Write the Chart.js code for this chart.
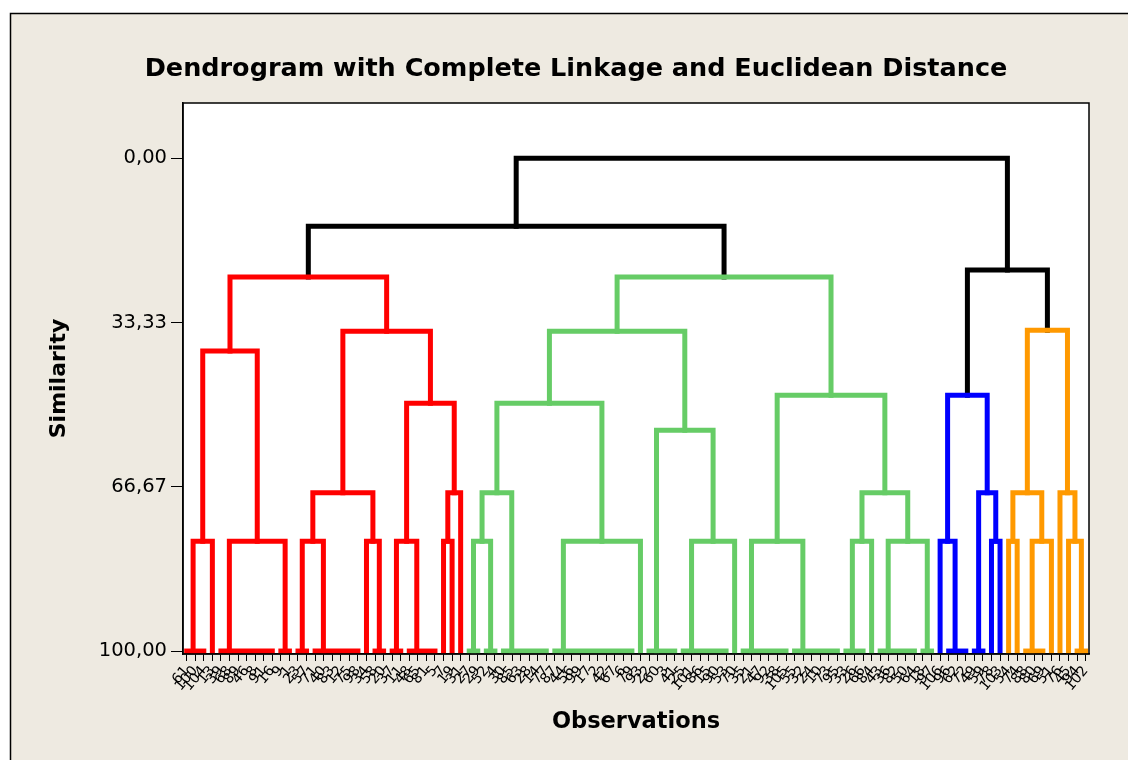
<!DOCTYPE html>
<html>
<head>
<meta charset="utf-8">
<title>Dendrogram with Complete Linkage and Euclidean Distance</title>
<script src="https://cdn.jsdelivr.net/npm/chart.js"></script>
<style>
  html, body { margin: 0; padding: 0; background: #fff; }
  canvas { display: block; }
</style>
</head>
<body>
<canvas id="dendrogram" width="1128" height="760"></canvas>
<script>
// leaf order along the x axis (observation numbers)
const observations = [
  61, 100, 104, 13, 39, 68, 89, 46, 8, 91,
  16, 9, 1, 23, 57, 71, 40, 83, 12, 75,
  98, 34, 58, 20, 37, 11, 48, 65, 81, 5,
  7, 19, 31, 27, 29, 52, 4, 30, 85, 63,
  28, 14, 77, 87, 44, 56, 99, 17, 2, 42,
  67, 6, 79, 93, 22, 60, 3, 41, 25, 101,
  86, 15, 90, 53, 70, 35, 21, 47, 92, 38,
  105, 55, 32, 24, 10, 73, 95, 33, 26, 66,
  84, 43, 36, 82, 50, 64, 18, 97, 106, 96,
  62, 72, 49, 59, 78, 103, 54, 74, 88, 80,
  69, 51, 76, 45, 94, 102
];

// each merge joins leaves first..split-1 with split..last at a similarity level;
// a leaf range that is not itself a merge is a group of identical observations (similarity 100)
const mergeFirst = [0, 4, 0, 13, 21, 13, 24, 30, 30, 24, 13, 0,
  33, 33, 43, 33, 58, 54, 33, 65, 77, 81, 77, 65, 33, 0,
  88, 94, 92, 88, 96, 98, 96, 103, 102, 96, 88, 0];
const mergeSplit = [3, 11, 4, 15, 22, 21, 26, 31, 32, 30, 24, 13,
  35, 37, 53, 43, 64, 58, 54, 71, 80, 86, 81, 77, 65, 33,
  89, 95, 94, 92, 97, 101, 98, 104, 103, 102, 96, 88];
const mergeLast = [3, 12, 12, 20, 23, 23, 29, 31, 32, 32, 32, 32,
  36, 42, 53, 53, 64, 64, 64, 76, 80, 87, 87, 87, 87, 87,
  91, 95, 95, 95, 97, 101, 101, 105, 105, 105, 105, 105];
const mergeSim = [77.7, 77.7, 39.1, 77.7, 77.7, 67.9, 77.7, 77.7, 67.9, 49.7, 35.1, 24.1,
  77.7, 67.9, 77.7, 49.7, 77.7, 55.2, 35.1, 77.7, 77.7, 77.7, 67.9, 48.1, 24.1, 13.8,
  77.7, 77.7, 67.9, 48.1, 77.7, 77.7, 67.9, 77.7, 67.9, 34.9, 22.7, 0];

// final partition: first leaf of each cluster and its colour
const clusterStart = [0, 33, 88, 96];
const clusterColors = ['#ff0000', '#66cc66', '#0000ff', '#ff9900'];
const clusterCut = 23.5;

const yTickValues = [0, 33.33, 66.67, 100];
const yTickLabels = ['0,00', '33,33', '66,67', '100,00'];

function findMerge(first, last) {
  for (let i = 0; i < mergeSim.length; i++) {
    if (mergeFirst[i] === first && mergeLast[i] === last) return i;
  }
  return -1;
}

function nodeX(first, last) {
  if (first === last) return first;
  const m = findMerge(first, last);
  if (m < 0) return (first + nodeX(first + 1, last)) / 2;
  return (nodeX(first, mergeSplit[m] - 1) + nodeX(mergeSplit[m], last)) / 2;
}

function nodeSim(first, last) {
  const m = findMerge(first, last);
  return m < 0 ? 100 : mergeSim[m];
}

function clusterColor(leaf) {
  let c = 0;
  clusterStart.forEach((s, i) => { if (leaf >= s) c = i; });
  return clusterColors[c];
}

function link(points, color) {
  return {
    data: points,
    borderColor: color,
    borderWidth: 5,
    borderCapStyle: 'square',
    borderJoinStyle: 'miter',
    pointRadius: 0,
    fill: false,
    tension: 0
  };
}

const datasets = [];
mergeSim.forEach((sim, i) => {
  const first = mergeFirst[i], split = mergeSplit[i], last = mergeLast[i];
  const xl = nodeX(first, split - 1);
  const xr = nodeX(split, last);
  const color = sim > clusterCut ? clusterColor(first) : '#000000';
  datasets.push(link([
    { x: xl, y: nodeSim(first, split - 1) },
    { x: xl, y: sim },
    { x: xr, y: sim },
    { x: xr, y: nodeSim(split, last) }
  ], color));
  // identical observations joined along the bottom
  [[first, split - 1], [split, last]].forEach(([a, b]) => {
    if (b > a && findMerge(a, b) < 0) {
      datasets.push(link([{ x: a, y: 100 }, { x: b, y: 100 }], clusterColor(a)));
    }
  });
});

const framePlugin = {
  id: 'frame',
  beforeDraw(chart) {
    const { ctx, chartArea: a } = chart;
    ctx.save();
    ctx.fillStyle = '#ffffff';
    ctx.fillRect(0, 0, chart.width, chart.height);
    ctx.fillStyle = '#eeeae1';
    ctx.fillRect(10, 13, chart.width, chart.height);
    ctx.strokeStyle = '#000000';
    ctx.lineWidth = 1.5;
    ctx.strokeRect(10.5, 13.5, chart.width + 20, chart.height + 20);
    ctx.fillStyle = '#ffffff';
    ctx.fillRect(a.left, a.top, a.right - a.left, a.bottom - a.top);
    ctx.restore();
  },
  afterDraw(chart) {
    const { ctx, chartArea: a } = chart;
    ctx.save();
    ctx.strokeStyle = '#000000';
    ctx.lineWidth = 1.5;
    ctx.strokeRect(a.left, a.top, a.right - a.left, a.bottom - a.top);
    ctx.fillStyle = '#000000';
    ctx.font = 'bold 25.5px "DejaVu Sans"';
    ctx.textAlign = 'center';
    ctx.textBaseline = 'middle';
    ctx.fillText('Dendrogram with Complete Linkage and Euclidean Distance', 576, 69);
    ctx.restore();
  }
};

new Chart(document.getElementById('dendrogram'), {
  type: 'line',
  data: { datasets },
  plugins: [framePlugin],
  options: {
    responsive: false,
    devicePixelRatio: 1,
    animation: false,
    layout: { padding: { top: 103, left: 10, right: 39, bottom: 0 } },
    plugins: {
      legend: { display: false },
      tooltip: { enabled: false },
      title: { display: false }
    },
    scales: {
      x: {
        type: 'linear',
        min: -0.43,
        max: 105.39,
        afterBuildTicks: (scale) => {
          scale.ticks = observations.map((_, i) => ({ value: i }));
        },
        afterFit: (scale) => { scale.height = 106; },
        grid: { drawOnChartArea: false, tickLength: 7, color: '#000000' },
        border: { display: true, color: '#000000', width: 1.5 },
        ticks: {
          autoSkip: false,
          minRotation: 50,
          maxRotation: 50,
          padding: 2,
          color: '#000000',
          font: { family: 'DejaVu Sans', size: 14 },
          callback: (v) => observations[v]
        },
        title: {
          display: true,
          text: 'Observations',
          color: '#000000',
          font: { family: 'DejaVu Sans', size: 22.5, weight: 'bold' },
          padding: { top: 0, bottom: 24 }
        }
      },
      y: {
        type: 'linear',
        reverse: true,
        min: -11.2,
        max: 100.6,
        afterBuildTicks: (scale) => {
          scale.ticks = yTickValues.map((v) => ({ value: v }));
        },
        afterFit: (scale) => { scale.width = 173; },
        grid: { drawOnChartArea: false, tickLength: 12, color: '#000000' },
        border: { display: true, color: '#000000', width: 1.5 },
        ticks: {
          padding: 4,
          color: '#000000',
          font: { family: 'DejaVu Sans', size: 19.5 },
          callback: (v) => yTickLabels[yTickValues.indexOf(v)]
        },
        title: {
          display: true,
          text: 'Similarity',
          color: '#000000',
          font: { family: 'DejaVu Sans', size: 22, weight: 'bold' },
          padding: { top: 36, bottom: 0 }
        }
      }
    }
  }
});
</script>
</body>
</html>
